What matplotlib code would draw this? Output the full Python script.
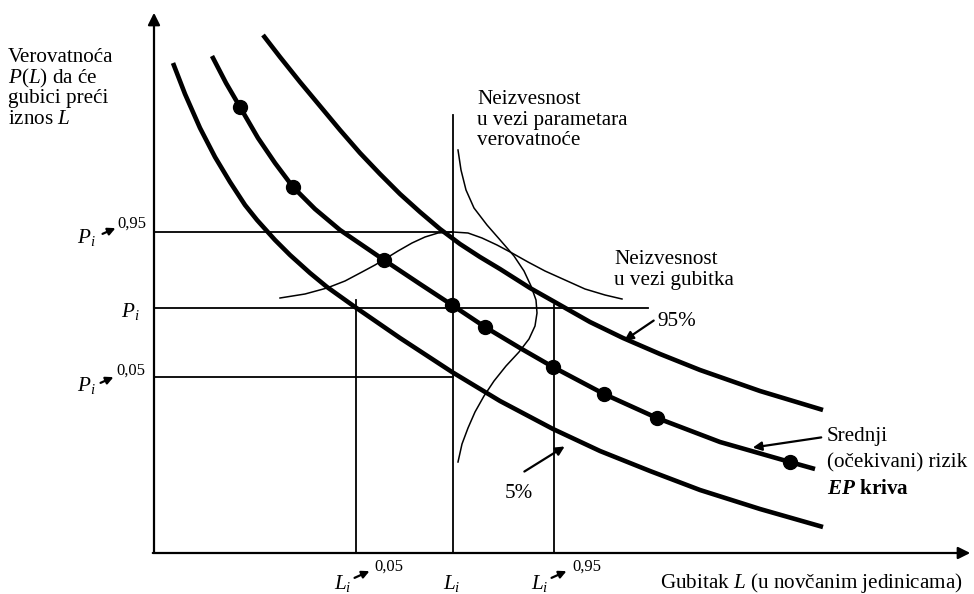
import numpy as np
import matplotlib.pyplot as plt

plt.rcParams['font.family'] = ['Liberation Serif', 'DejaVu Serif']
plt.rcParams['mathtext.fontset'] = 'custom'
plt.rcParams['mathtext.rm'] = 'Liberation Serif'
plt.rcParams['mathtext.it'] = 'Liberation Serif:italic'
plt.rcParams['mathtext.bf'] = 'Liberation Serif:bold'
plt.rcParams['mathtext.bfit'] = 'Liberation Serif:bold:italic'

# schematic drawn in picture units (x to the right, y downwards)
# lower (5%) EP curve
lower_x = [173, 185, 200, 215, 230, 245, 257, 275, 290, 310, 327, 355, 400, 452, 500, 553, 600, 650, 700, 760, 823]
lower_y = [63, 94, 128, 157, 182, 205, 220, 240, 255, 273, 287, 307, 338, 372, 401, 429, 451, 471, 490, 509, 527]

# mean EP curve and its points
mean_x = [212, 226, 240, 258, 275, 293, 315, 340, 362, 384, 420, 452, 485, 520, 553, 604, 657, 720, 790, 815]
mean_y = [56, 83, 107, 138, 163, 187, 209, 230, 245, 260, 284, 305, 327, 348, 367, 394, 418, 442, 462, 469]
dots_x = [240, 293, 384, 452, 485, 553, 604, 657, 790]
dots_y = [107, 187, 260, 305, 327, 367, 394, 418, 462]

# upper (95%) EP curve
upper_x = [263, 280, 300, 320, 340, 360, 380, 400, 420, 440, 460, 480, 500, 530, 553, 590, 623, 660, 700, 760, 823]
upper_y = [35, 57, 82, 106, 130, 153, 174, 194, 212, 229, 244, 257, 269, 288, 301, 322, 338, 354, 370, 391, 410]

# loss uncertainty density (horizontal bell)
loss_pdf_x = [280, 305, 327, 345, 362, 375, 385, 398, 412, 425, 438, 453, 468, 482, 497, 512, 528, 545, 565, 585, 605, 622]
loss_pdf_y = [298, 294, 288, 281, 272, 265, 259, 251, 243, 237, 233, 232, 233, 238, 245, 253, 262, 271, 280, 289, 295, 299]

# probability parameter uncertainty density (vertical bell)
prob_pdf_x = [458, 461, 466, 474, 487, 501, 514, 524, 531, 536, 537, 535, 529, 519, 506, 494, 484, 475, 468, 462, 458]
prob_pdf_y = [150, 170, 190, 208, 225, 241, 256, 271, 286, 300, 313, 326, 339, 352, 366, 381, 396, 412, 428, 444, 462]

# reference levels
p_levels = [232, 308, 377]           # P_i^0,95, P_i, P_i^0,05
p_ends = [453, 648, 453]
l_levels = [356, 453, 554]           # L_i^0,05, L_i, L_i^0,95
l_tops = [300, 115, 305]

x0, y0 = 154, 553

fig = plt.figure(figsize=(9.74, 5.94), dpi=100)
ax = fig.add_axes([0, 0, 1, 1])
ax.set_xlim(0, 974)
ax.set_ylim(594, 0)
ax.axis('off')

# axes with arrows
ax.annotate('', xy=(x0, 10), xytext=(x0, y0 + 2),
            arrowprops=dict(arrowstyle='-|>', lw=1.6, color='k', mutation_scale=18))
ax.annotate('', xy=(973, y0), xytext=(x0 - 4, y0),
            arrowprops=dict(arrowstyle='-|>', lw=1.6, color='k', mutation_scale=18))

# guide lines
for yl, xe in zip(p_levels, p_ends):
    ax.plot([x0, xe], [yl, yl], color='k', lw=1.3)
for xl, yt in zip(l_levels, l_tops):
    ax.plot([xl, xl], [y0, yt], color='k', lw=1.3)

# densities
ax.plot(loss_pdf_x, loss_pdf_y, color='k', lw=1.1)
ax.plot(prob_pdf_x, prob_pdf_y, color='k', lw=1.1)

# EP curves
for cx, cy in [(lower_x, lower_y), (mean_x, mean_y), (upper_x, upper_y)]:
    ax.plot(cx, cy, color='k', lw=3.3, solid_joinstyle='round', solid_capstyle='butt')
ax.plot(dots_x, dots_y, 'o', color='k', ms=10)

fs = 15.2
small = 12
arr = dict(arrowstyle='-|>', lw=1.6, color='k', mutation_scale=11)

# y-axis title
ax.text(8, 57, 'Verovatnoća', fontsize=fs, va='center')
ax.text(8, 78, r'$\mathit{P(L)}$ da će', fontsize=fs, va='center')
ax.text(8, 99, 'gubici preći', fontsize=fs, va='center')
ax.text(8, 120, 'iznos $L$', fontsize=fs, va='center')

# y labels
ax.text(77, 238, '$P_i$', fontsize=fs, va='center')
ax.annotate('', xy=(118, 227), xytext=(100, 235), arrowprops=arr)
ax.text(117, 224, '0,95', fontsize=small, va='center')
ax.text(121, 312, '$P_i$', fontsize=fs, va='center')
ax.text(77, 385, '$P_i$', fontsize=fs, va='center')
ax.annotate('', xy=(116, 376), xytext=(98, 384), arrowprops=arr)
ax.text(116, 371, '0,05', fontsize=small, va='center')

# x labels
ax.text(334, 583, '$L_i$', fontsize=fs, va='center')
ax.annotate('', xy=(372, 570), xytext=(352, 579), arrowprops=arr)
ax.text(374, 567, '0,05', fontsize=small, va='center')
ax.text(443, 583, '$L_i$', fontsize=fs, va='center')
ax.text(531, 583, '$L_i$', fontsize=fs, va='center')
ax.annotate('', xy=(569, 570), xytext=(549, 579), arrowprops=arr)
ax.text(572, 567, '0,95', fontsize=small, va='center')
ax.text(660, 583, 'Gubitak $L$ (u novčanim jedinicama)', fontsize=fs, va='center')

# annotations
ax.text(477, 120, 'Neizvesnost\nu vezi parametara\nverovatnoće', fontsize=fs, va='center',
        linespacing=1.1)
ax.text(614, 270, 'Neizvesnost\nu vezi gubitka', fontsize=fs, va='center', linespacing=1.1)

big = dict(arr, mutation_scale=13)
ax.annotate('', xy=(622, 342), xytext=(656, 319), arrowprops=big)
ax.text(657, 322, '95%', fontsize=fs, va='center')
ax.annotate('', xy=(567, 445), xytext=(522, 473), arrowprops=big)
ax.text(505, 494, '5%', fontsize=fs, va='center')
ax.annotate('', xy=(750, 448), xytext=(824, 437), arrowprops=big)
ax.text(827, 437, 'Srednji', fontsize=fs, va='center')
ax.text(827, 463, '(očekivani) rizik', fontsize=fs, va='center')
ax.text(827, 489, r'$\mathbfit{EP}$ kriva', fontsize=fs, va='center', fontweight='bold')

fig.savefig('out.png', dpi=100)
